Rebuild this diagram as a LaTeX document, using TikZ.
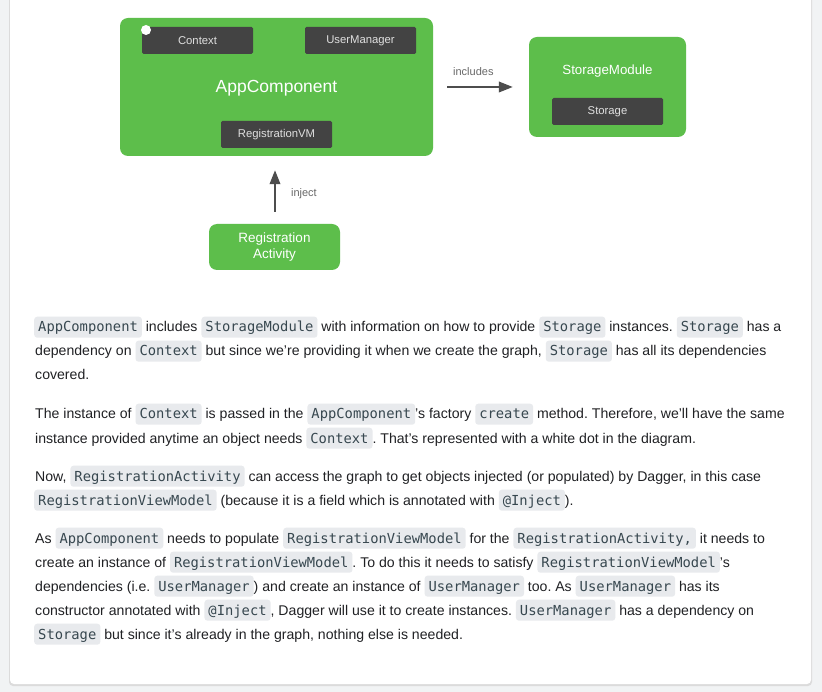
\documentclass[tikz,border=0pt]{standalone}
\usepackage{fontspec}
\setmainfont{Liberation Sans}
\setmonofont{DejaVu Sans Mono}
\usepackage{tikz}
\usetikzlibrary{positioning,calc,arrows.meta}
\definecolor{dgreen}{HTML}{5DBE4B}
\definecolor{dbox}{HTML}{434343}
\definecolor{darrow}{HTML}{4D4D4D}
\definecolor{pagebg}{HTML}{F1F3F4}
\definecolor{codebg}{HTML}{E8EAED}
\definecolor{codefg}{HTML}{37474F}
\definecolor{bodyfg}{HTML}{202124}
\tikzset{
  codebox/.style={anchor=base, fill=codebg, rounded corners=3pt, inner xsep=4pt,
    inner ysep=3pt, text height=12.3pt, text depth=2.7pt, text=codefg,
    font=\fontsize{13.8}{16}\ttfamily},
}
\newcommand{\code}[1]{\tikz[baseline=0pt]\node[codebox]{#1};}

\begin{document}
\begin{tikzpicture}[x=1pt, y=-1pt,
  greenbox/.style={fill=dgreen, rounded corners=8pt, inner sep=0pt},
  darkbox/.style={fill=dbox, rounded corners=1.5pt, minimum width=111pt, minimum height=27pt,
    inner sep=0pt, text=white!88!black, font=\fontsize{11.3}{13}\selectfont},
  flow/.style={darrow, line width=2.2pt, -{Triangle[length=14pt,width=10.5pt]}},
  flowlabel/.style={text=darrow!85, font=\fontsize{11}{13}\selectfont, inner sep=0pt},
  para/.style={anchor=base west, inner sep=0pt, text=bodyfg,
    font=\fontsize{14.1}{24}\selectfont\frenchspacing},
]
\useasboundingbox (0,0) rectangle (822,692);
% page and card
\fill[pagebg] (0,0) rectangle (822,692);
\fill[black!14, rounded corners=4pt] (9,-10) rectangle (812,686);
\fill[white, rounded corners=4pt] (10,-10) rectangle (811,684);

% diagram
\node[greenbox, minimum width=313pt, minimum height=138pt] (appcomp) at (276.5,87) {};
\node[text=white, font=\fontsize{17.5}{20}\selectfont, inner sep=0pt] (applbl) at (276.5,88) {AppComponent};
\node[darkbox] (ctx) at (197.5,40.5) {Context};
\node[darkbox] (umgr) at (360.5,40.5) {UserManager};
\node[darkbox] (regvm) at (276.5,134.5) {RegistrationVM};
\fill[white] (146,30) circle (5pt);

\node[greenbox, minimum width=157pt, minimum height=100pt] (stmod) at (607.5,87) {};
\node[text=white, font=\fontsize{13.3}{16}\selectfont, inner sep=0pt] (stmodlbl) at (607.5,71) {StorageModule};
\node[darkbox] (stor) at (607.5,111.5) {Storage};

\node[greenbox, minimum width=131pt, minimum height=46pt, text=white, align=center,
  font=\fontsize{13.5}{16}\selectfont] (regact) at (274.5,247) {Registration\\Activity};

\draw[flow, shorten <=14pt, shorten >=16pt] (appcomp.east |- stmod) -- (stmod.west)
  node[flowlabel, pos=0.42, above=10pt] (incl) {includes};
\draw[flow, shorten <=12pt, shorten >=14pt] ([xshift=0.5pt]regact.north) -- ([xshift=0.5pt]regact.north |- appcomp.south)
  node[flowlabel, pos=0.45, right=15pt] (inj) {inject};

% text
\node[para] (p1a) at (34,332) {\code{AppComponent} includes \code{StorageModule} with information on how to provide \code{Storage} instances. \code{Storage} has a};
\node[para] (p1b) at (35,356) {dependency on \code{Context} but since we're providing it when we create the graph, \code{Storage} has all its dependencies};
\node[para] (p1c) at (35,380) {covered.};

\node[para] (p2a) at (35,419) {The instance of \code{Context} is passed in the \code{AppComponent}'s factory \code{create} method. Therefore, we'll have the same};
\node[para] (p2b) at (35,443) {instance provided anytime an object needs \code{Context}. That's represented with a white dot in the diagram.};

\node[para] (p3a) at (35,481) {Now, \code{RegistrationActivity} can access the graph to get objects injected (or populated) by Dagger, in this case};
\node[para] (p3b) at (34,505) {\code{RegistrationViewModel} (because it is a field which is annotated with \code{@Inject}).};

\node[para] (p4a) at (35,543) {As \code{AppComponent} needs to populate \code{RegistrationViewModel} for the \code{RegistrationActivity,} it needs to};
\node[para] (p4b) at (35,567) {create an instance of \code{RegistrationViewModel}. To do this it needs to satisfy \code{RegistrationViewModel}'s};
\node[para] (p4c) at (35,591) {dependencies (i.e. \code{UserManager}) and create an instance of \code{UserManager} too. As \code{UserManager} has its};
\node[para] (p4d) at (35,615) {constructor annotated with \code{@Inject}, Dagger will use it to create instances. \code{UserManager} has a dependency on};
\node[para] (p4e) at (34,639) {\code{Storage} but since it's already in the graph, nothing else is needed.};
\end{tikzpicture}
\end{document}
